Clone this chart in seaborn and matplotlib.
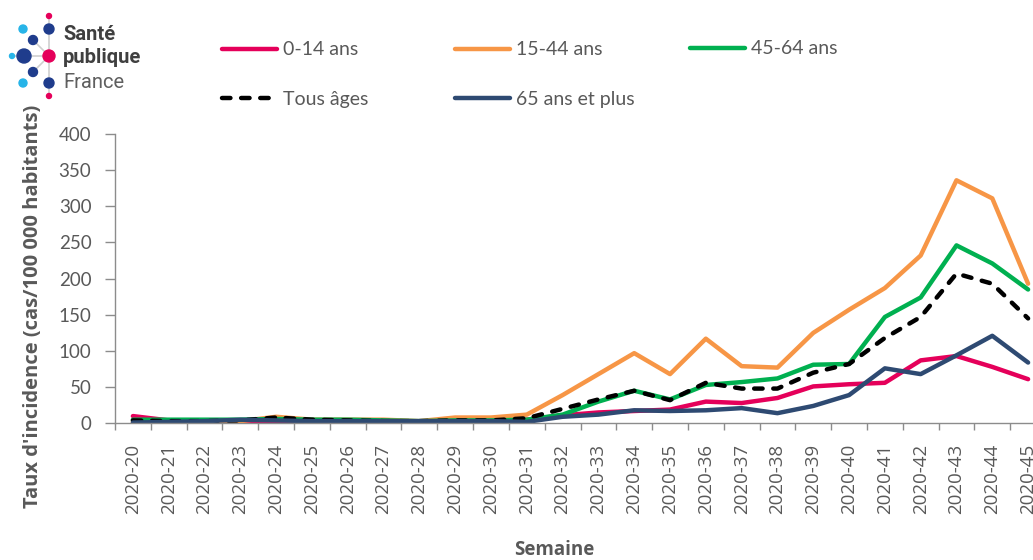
import matplotlib
matplotlib.use("Agg")
import matplotlib.pyplot as plt
import seaborn as sns
from matplotlib.patches import Circle
from matplotlib.ticker import FixedLocator

weeks = ["2020-20", "2020-21", "2020-22", "2020-23", "2020-24", "2020-25", "2020-26",
         "2020-27", "2020-28", "2020-29", "2020-30", "2020-31", "2020-32", "2020-33",
         "2020-34", "2020-35", "2020-36", "2020-37", "2020-38", "2020-39", "2020-40",
         "2020-41", "2020-42", "2020-43", "2020-44", "2020-45"]

# taux d'incidence par classe d'age (cas / 100 000 habitants)
age_0_14 = [10, 4, 1, 0, 3, 3, 2, 3, 2, 2, 2, 5, 11, 15, 17, 19, 30, 28, 35, 51, 54, 56, 87, 93, 78, 61]
age_15_44 = [2, 2, 0, 3, 9, 5, 5, 5, 3, 8, 8, 12, 39, 68, 97, 68, 117, 79, 77, 125, 157, 187, 232, 336, 311, 193]
age_45_64 = [5, 5, 5, 5, 6, 5, 5, 4, 3, 4, 4, 5, 12, 30, 45, 33, 53, 57, 62, 81, 82, 147, 174, 246, 221, 185]
all_ages = [4, 3, 3, 4, 8, 5, 4, 3, 3, 4, 4, 7, 20, 33, 45, 32, 56, 48, 48, 70, 82, 118, 147, 207, 193, 145]
age_65_plus = [1, 2, 3, 5, 4, 3, 3, 3, 3, 3, 3, 2, 9, 12, 18, 17, 18, 21, 14, 24, 39, 76, 68, 94, 121, 84]

series = [
    ("0-14 ans", age_0_14, "#E5005A", "-"),
    ("15-44 ans", age_15_44, "#F79646", "-"),
    ("45-64 ans", age_45_64, "#00B050", "-"),
    ("Tous âges", all_ages, "black", (0, (1.9, 2.4))),
    ("65 ans et plus", age_65_plus, "#2E4A72", "-"),
]

GRAY = "#8C8C8C"
TXT = "#595959"

sns.set_style("white")
plt.rcParams["font.family"] = ["Lato", "DejaVu Sans"]

W, H = 1033, 560
fig = plt.figure(figsize=(W / 100, H / 100), dpi=100)
# la zone de tracé dépasse à droite, comme sur l'original (dernière semaine coupée)
ax = fig.add_axes([115 / W, 1 - 423.3 / H, (1046 - 115) / W, 289.3 / H])

for label, vals, color, ls in series:
    sns.lineplot(x=weeks, y=vals, ax=ax, color=color, linewidth=3.2, linestyle=ls,
                 label=label, solid_capstyle="round", dash_capstyle="round")

handles, labels = ax.get_legend_handles_labels()
ax.get_legend().remove()
hmap = dict(zip(labels, handles))

ax.set_xlim(-0.5, len(weeks) - 0.5)
ax.set_ylim(0, 400)
ax.set_yticks(range(0, 401, 50))
ax.set_xticks(range(len(weeks)))
ax.set_xticklabels(weeks, rotation=90, fontfamily="Open Sans", fontsize=13.5, color=TXT)
ax.xaxis.set_minor_locator(FixedLocator([i - 0.5 for i in range(len(weeks) + 1)]))

ax.tick_params(axis="x", which="major", bottom=True, length=0, pad=15)
ax.tick_params(axis="x", which="minor", bottom=True, length=5, width=1, color=GRAY)
ax.tick_params(axis="y", left=True, length=7, width=1, color=GRAY, pad=10,
               labelsize=13.5, labelcolor=TXT)

for s in ["top", "right"]:
    ax.spines[s].set_visible(False)
for s in ["left", "bottom"]:
    ax.spines[s].set_color(GRAY)
    ax.spines[s].set_linewidth(1)

ax.set_ylabel("Taux d'incidence (cas/100 000 habitants)", fontsize=14.5, fontweight="bold",
              family="Open Sans", color=TXT)
ax.yaxis.set_label_coords((33.5 - 115) / 931, (423.3 - 306) / 289.3)
ax.yaxis.label.set_va("center")
ax.set_xlabel("Semaine", fontsize=13.5, fontweight="bold", family="Open Sans", color=TXT)
ax.xaxis.set_label_coords((554 - 115) / 931, (423.3 - 550) / 289.3)
ax.xaxis.label.set_va("center")

# légende en trois colonnes à largeur fixe
legend_cols = [
    (["0-14 ans", "Tous âges"], 222, 74.5),
    (["15-44 ans", "65 ans et plus"], 455, 74.5),
    (["45-64 ans"], 690, 49),
]
for names, x0, yc in legend_cols:
    fig.legend([hmap[n] for n in names], names, loc="center left",
               bbox_to_anchor=(x0 / W, 1 - yc / H), frameon=False, fontsize=14,
               handlelength=2.83, handletextpad=0.3, labelspacing=1.66,
               borderpad=0, borderaxespad=0, labelcolor=TXT)

# logo Santé publique France
PINK, NAVY, CYAN = "#E5005A", "#1F3C8C", "#27B4E8"
logo = fig.add_axes([0, 1 - 100 / H, 160 / W, 100 / H])
logo.set_xlim(0, 160)
logo.set_ylim(100, 0)
logo.axis("off")
for (x1, y1), (x2, y2) in [((49, 16), (49, 96)), ((12, 56), (49, 56)),
                           ((33, 40), (49, 56)), ((33, 72), (49, 56))]:
    logo.plot([x1, x2], [y1, y2], color="#CFCFCF", lw=1.2, zorder=1)
dots = [(49, 16, 2.5, PINK), (49, 29, 5, NAVY), (23, 29, 4, CYAN), (33, 40, 4.5, NAVY),
        (24, 56, 7, NAVY), (12, 56, 2.5, CYAN), (49, 56, 6, PINK), (33, 72, 4.5, NAVY),
        (23, 83, 4, CYAN), (49, 83, 5, NAVY), (49, 96, 2.5, PINK)]
for x, y, r, c in dots:
    logo.add_patch(Circle((x, y), r, color=c, zorder=2))
narrow = ["Liberation Sans Narrow", "Roboto", "DejaVu Sans"]
logo.text(63, 40.5, "Santé", fontsize=14.5, fontweight="bold", family=narrow, color="#3F3F3F", va="baseline")
logo.text(63, 63, "publique", fontsize=14.5, fontweight="bold", family=narrow, color="#3F3F3F", va="baseline")
logo.text(63, 88, "France", fontsize=14.5, family=narrow, color="#5F5F5F", va="baseline")

fig.savefig("out.png", dpi=100)
